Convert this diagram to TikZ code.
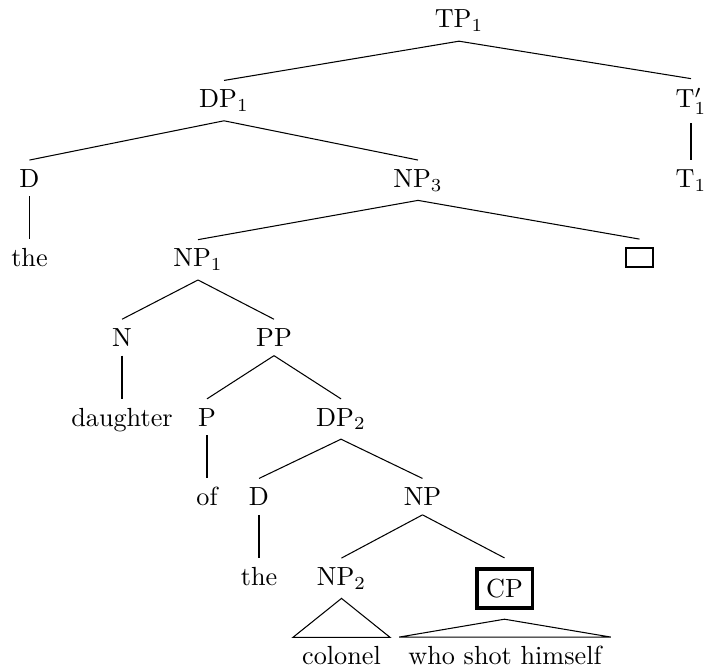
\documentclass[tikz,border=0pt]{standalone}
\usepackage{amsmath}
\usepackage{tikz}

\tikzset{
    cat/.style={anchor=base},
    hilite/.style={anchor=base, draw, line width=1.5pt, inner sep=3.66pt, outer sep=4.4pt},
    gap/.style={draw, inner sep=0pt, minimum width=10.3pt, minimum height=7.25pt, outer sep=3.4pt}
}

\begin{document}
\begin{tikzpicture}[x=0.3817pt, y=-0.3817pt]
    % Frame of the picture
    \useasboundingbox (0,0) rectangle (705,667);

    % Root and its two daughters
    \node[cat] (tp1) at (459,28) {TP$_1$};
    \node[cat] (dp1) at (224,107.6) {DP$_1$};
    \node[cat] (t1p) at (691,107.6) {T$'_1$};

    % Third row
    \node[cat] (d1) at (29.5,187.2) {D};
    \node[cat] (np3) at (418,187.2) {NP$_3$};
    \node[cat] (t1) at (691,187.2) {T$_1$};

    % Fourth row, with the empty slot on the right
    \node[cat] (the1) at (29.5,266.8) {the};
    \node[cat] (np1) at (198,266.8) {NP$_1$};
    \node[gap] (slot) at (639.5,257.5) {};

    % Inside NP1
    \node[cat] (n) at (122,346.4) {N};
    \node[cat] (pp) at (274,346.4) {PP};
    \node[cat] (daughter) at (122,426) {daughter};
    \node[cat] (p) at (207,426) {P};
    \node[cat] (dp2) at (341,426) {DP$_2$};

    % Inside DP2
    \node[cat] (of) at (207,505.6) {of};
    \node[cat] (d2) at (259,505.6) {D};
    \node[cat] (np) at (422.5,505.6) {NP};
    \node[cat] (the2) at (259,585.2) {the};
    \node[cat] (np2) at (341.5,585.2) {NP$_2$};
    \node[hilite] (cp) at (504.5,597.5) {CP};

    % Words under the triangles
    \node[cat] (colonel) at (341.5,664.8) {colonel};
    \node[cat] (rel) at (505,664.8) {who shot himself};

    % Branches, top part
    \draw (tp1.south) -- (dp1.north);
    \draw (tp1.south) -- (t1p.north);
    \draw (dp1.south) -- (d1.north);
    \draw (dp1.south) -- (np3.north);
    \draw (t1p.south) -- (t1.north);
    \draw (d1.south) -- (the1.north);
    \draw (np3.south) -- (np1.north);
    \draw (np3.south) -- (slot.north);

    % Branches, lower part
    \draw (np1.south) -- (n.north);
    \draw (np1.south) -- (pp.north);
    \draw (n.south) -- (daughter.north);
    \draw (pp.south) -- (p.north);
    \draw (pp.south) -- (dp2.north);
    \draw (p.south) -- (of.north);
    \draw (dp2.south) -- (d2.north);
    \draw (dp2.south) -- (np.north);
    \draw (d2.south) -- (the2.north);
    \draw (np.south) -- (np2.north);
    \draw (np.south) -- (cp.north);

    % Triangles over the unanalysed phrases
    \draw (np2.south) -- (colonel.north west) -- (colonel.north east) -- cycle;
    \draw (cp.south) -- (rel.north west) -- (rel.north east) -- cycle;
\end{tikzpicture}
\end{document}
